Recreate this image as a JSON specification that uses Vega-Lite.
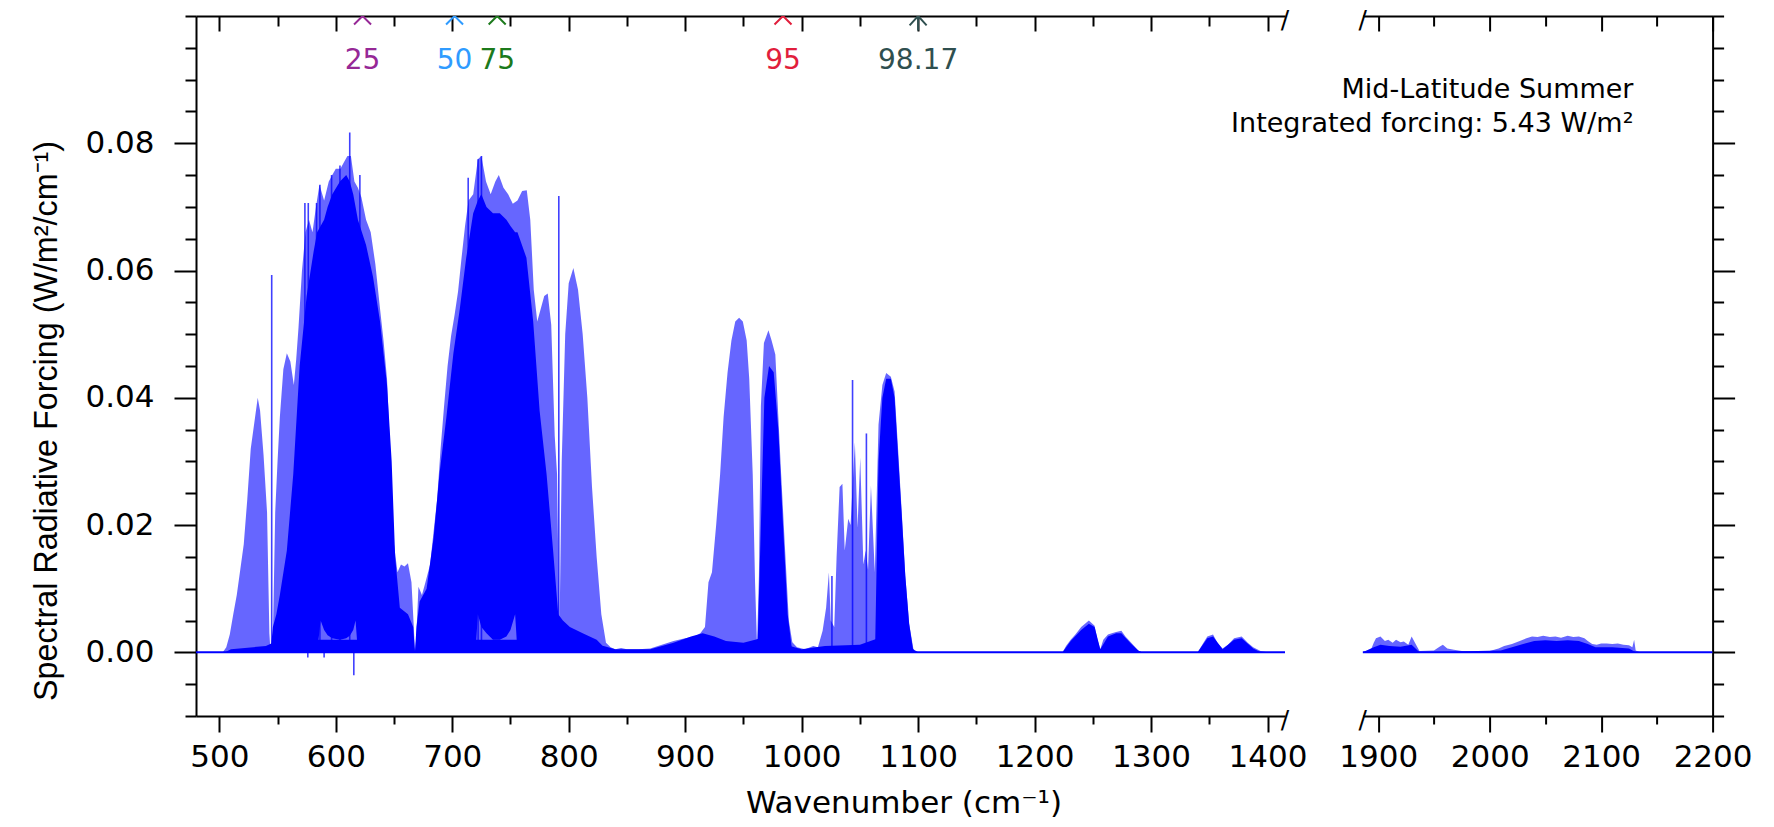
{
"$schema": "https://vega.github.io/schema/vega-lite/v6.json",
"background": "white",
"padding": {"left": 30, "top": 0, "right": 5, "bottom": 5},
"config": {
  "view": {"stroke": null},
  "axis": {"domainColor": "black", "domainWidth": 2, "tickColor": "black", "tickWidth": 2, "labelFont": "DejaVu Sans", "labelFontSize": 31, "labelColor": "black", "titleFont": "DejaVu Sans", "titleFontSize": 31, "titleColor": "black", "titleFontWeight": "normal", "grid": false, "labelFlush": false, "labelOverlap": false, "labelBound": false}
},
"bounds": "flush",
"spacing": 77.6,
"datasets": {
  "env1": [
    {"w":480,"hi":0},{"w":503,"hi":0},{"w":506,"hi":0.0008},{"w":509,"hi":0.0028},{"w":512,"hi":0.006},{"w":515,"hi":0.009},{"w":518,"hi":0.013},{"w":521,"hi":0.017},{"w":524,"hi":0.024},{"w":527,"hi":0.032},{"w":530,"hi":0.036},{"w":533,"hi":0.040},{"w":535,"hi":0.038},{"w":538,"hi":0.031},{"w":541,"hi":0.022},{"w":543,"hi":0.003},{"w":544,"hi":0.0},{"w":546,"hi":0.002},{"w":548,"hi":0.022},{"w":550,"hi":0.030},{"w":552,"hi":0.037},{"w":555,"hi":0.0445},{"w":558,"hi":0.047},{"w":561,"hi":0.0457},{"w":564,"hi":0.042},{"w":566,"hi":0.046},{"w":568,"hi":0.051},{"w":571,"hi":0.060},{"w":574,"hi":0.066},{"w":577,"hi":0.068},{"w":580,"hi":0.066},{"w":583,"hi":0.070},{"w":586,"hi":0.0735},{"w":590,"hi":0.071},{"w":594,"hi":0.074},{"w":597,"hi":0.075},{"w":600,"hi":0.076},{"w":604,"hi":0.076},{"w":607,"hi":0.077},{"w":610,"hi":0.078},{"w":613,"hi":0.078},{"w":616,"hi":0.074},{"w":619,"hi":0.073},{"w":622,"hi":0.0715},{"w":626,"hi":0.068},{"w":630,"hi":0.066},{"w":634,"hi":0.061},{"w":638,"hi":0.054},{"w":641,"hi":0.049},{"w":644,"hi":0.043},{"w":647,"hi":0.030},{"w":650,"hi":0.017},{"w":653,"hi":0.0126},{"w":656,"hi":0.0138},{"w":659,"hi":0.0135},{"w":662,"hi":0.014},{"w":665,"hi":0.011},{"w":667,"hi":0.004},{"w":668,"hi":0},{"w":669,"hi":0.002},{"w":671,"hi":0.0103},{"w":674,"hi":0.009},{"w":677,"hi":0.011},{"w":681,"hi":0.0138},{"w":684,"hi":0.019},{"w":687,"hi":0.024},{"w":690,"hi":0.032},{"w":693,"hi":0.0387},{"w":696,"hi":0.045},{"w":699,"hi":0.0497},{"w":702,"hi":0.053},{"w":705,"hi":0.0567},{"w":708,"hi":0.062},{"w":711,"hi":0.067},{"w":714,"hi":0.071},{"w":718,"hi":0.072},{"w":722,"hi":0.0775},{"w":725,"hi":0.078},{"w":729,"hi":0.074},{"w":733,"hi":0.072},{"w":737,"hi":0.074},{"w":740,"hi":0.075},{"w":744,"hi":0.073},{"w":748,"hi":0.072},{"w":752,"hi":0.0705},{"w":756,"hi":0.071},{"w":760,"hi":0.0725},{"w":764,"hi":0.0726},{"w":767,"hi":0.068},{"w":770,"hi":0.057},{"w":773,"hi":0.052},{"w":776,"hi":0.054},{"w":779,"hi":0.056},{"w":782,"hi":0.0564},{"w":785,"hi":0.0515},{"w":788,"hi":0.034},{"w":790,"hi":0.028},{"w":792,"hi":0.002},{"w":794,"hi":0.03},{"w":797,"hi":0.05},{"w":800,"hi":0.058},{"w":804,"hi":0.0604},{"w":808,"hi":0.057},{"w":812,"hi":0.050},{"w":816,"hi":0.040},{"w":820,"hi":0.026},{"w":824,"hi":0.015},{"w":828,"hi":0.006},{"w":832,"hi":0.0015},{"w":836,"hi":0.0008},{"w":840,"hi":0.0005},{"w":845,"hi":0.0007},{"w":850,"hi":0.0005},{"w":860,"hi":0.0005},{"w":870,"hi":0.0006},{"w":880,"hi":0.0012},{"w":890,"hi":0.0018},{"w":900,"hi":0.0022},{"w":908,"hi":0.0025},{"w":913,"hi":0.003},{"w":917,"hi":0.004},{"w":920,"hi":0.011},{"w":923,"hi":0.0126},{"w":926.6,"hi":0.020},{"w":930,"hi":0.028},{"w":933,"hi":0.037},{"w":936.4,"hi":0.044},{"w":939.7,"hi":0.049},{"w":943,"hi":0.052},{"w":946.3,"hi":0.0526},{"w":949.5,"hi":0.052},{"w":952.8,"hi":0.049},{"w":955,"hi":0.043},{"w":958,"hi":0.028},{"w":960,"hi":0.011},{"w":961.7,"hi":0.001},{"w":963.3,"hi":0.012},{"w":965,"hi":0.0387},{"w":967.6,"hi":0.0486},{"w":971.5,"hi":0.0506},{"w":974.2,"hi":0.049},{"w":977.4,"hi":0.0468},{"w":980,"hi":0.037},{"w":982.4,"hi":0.028},{"w":985.6,"hi":0.0167},{"w":989,"hi":0.005},{"w":992,"hi":0.0016},{"w":996,"hi":0.0008},{"w":1003,"hi":0.0005},{"w":1010,"hi":0.001},{"w":1014,"hi":0.0008},{"w":1018,"hi":0.0034},{"w":1021,"hi":0.007},{"w":1023.4,"hi":0.0126},{"w":1025,"hi":0.005},{"w":1028,"hi":0.004},{"w":1030,"hi":0.015},{"w":1032.6,"hi":0.026},{"w":1035,"hi":0.0265},{"w":1037,"hi":0.016},{"w":1040,"hi":0.021},{"w":1042,"hi":0.02},{"w":1045.7,"hi":0.033},{"w":1048,"hi":0.0196},{"w":1050.3,"hi":0.0306},{"w":1053,"hi":0.0138},{"w":1055,"hi":0.016},{"w":1057,"hi":0.013},{"w":1059.5,"hi":0.0262},{"w":1062.8,"hi":0.0126},{"w":1066,"hi":0.0358},{"w":1069.3,"hi":0.042},{"w":1072.6,"hi":0.0439},{"w":1076.6,"hi":0.0433},{"w":1079.8,"hi":0.041},{"w":1083.1,"hi":0.031},{"w":1085.8,"hi":0.0225},{"w":1089,"hi":0.012},{"w":1092.3,"hi":0.0045},{"w":1096,"hi":0.0005},{"w":1100,"hi":0},{"w":1224,"hi":0},{"w":1227,"hi":0.001},{"w":1231,"hi":0.002},{"w":1235,"hi":0.0028},{"w":1240,"hi":0.004},{"w":1246.6,"hi":0.005},{"w":1251.5,"hi":0.0042},{"w":1254,"hi":0.002},{"w":1256.4,"hi":0.0005},{"w":1259,"hi":0.002},{"w":1263,"hi":0.0028},{"w":1266.3,"hi":0.003},{"w":1270,"hi":0.0032},{"w":1274.5,"hi":0.0034},{"w":1278,"hi":0.0025},{"w":1282.6,"hi":0.0016},{"w":1289,"hi":0.0003},{"w":1292,"hi":0},{"w":1340,"hi":0},{"w":1345,"hi":0.0015},{"w":1348.3,"hi":0.0025},{"w":1353.2,"hi":0.0028},{"w":1357,"hi":0.0015},{"w":1361.4,"hi":0.0006},{"w":1366,"hi":0.0012},{"w":1371.3,"hi":0.0022},{"w":1377.8,"hi":0.0025},{"w":1383,"hi":0.0015},{"w":1387.7,"hi":0.0008},{"w":1394,"hi":0.0002},{"w":1400,"hi":0},{"w":1415,"hi":0}
  ],
  "core1": [
    {"w":544,"clo":0,"chi":0},{"w":546,"clo":0,"chi":0.004},{"w":549,"clo":0,"chi":0.006},{"w":552,"clo":0,"chi":0.009},{"w":558,"clo":0,"chi":0.016},{"w":563.5,"clo":0,"chi":0.028},{"w":569,"clo":0,"chi":0.045},{"w":575,"clo":0,"chi":0.056},{"w":581,"clo":0,"chi":0.063},{"w":584,"clo":0,"chi":0.066},{"w":587,"clo":0.005,"chi":0.067},{"w":590,"clo":0.0035,"chi":0.068},{"w":593,"clo":0.0027,"chi":0.07},{"w":597,"clo":0.0022,"chi":0.072},{"w":603.6,"clo":0.002,"chi":0.074},{"w":609,"clo":0.0022,"chi":0.075},{"w":612,"clo":0.0026,"chi":0.074},{"w":615,"clo":0.0035,"chi":0.072},{"w":617,"clo":0.005,"chi":0.07},{"w":619,"clo":0,"chi":0.068},{"w":626,"clo":0,"chi":0.064},{"w":632,"clo":0,"chi":0.059},{"w":638,"clo":0,"chi":0.052},{"w":644,"clo":0,"chi":0.042},{"w":648,"clo":0,"chi":0.03},{"w":651,"clo":0,"chi":0.015},{"w":655,"clo":0,"chi":0.007},{"w":662,"clo":0,"chi":0.006},{"w":666.5,"clo":0,"chi":0.004},{"w":668,"clo":0,"chi":0},
    {"w":669.3,"clo":0,"chi":0.004},{"w":672,"clo":0,"chi":0.008},{"w":678,"clo":0,"chi":0.010},{"w":684,"clo":0,"chi":0.018},{"w":689,"clo":0,"chi":0.028},{"w":695,"clo":0,"chi":0.037},{"w":701,"clo":0,"chi":0.047},{"w":706.5,"clo":0,"chi":0.054},{"w":712,"clo":0,"chi":0.062},{"w":718,"clo":0,"chi":0.069},{"w":720,"clo":0,"chi":0.07},{"w":722,"clo":0.006,"chi":0.071},{"w":725,"clo":0.004,"chi":0.072},{"w":729.4,"clo":0.003,"chi":0.070},{"w":735,"clo":0.002,"chi":0.069},{"w":740.8,"clo":0.002,"chi":0.069},{"w":746.5,"clo":0.0025,"chi":0.068},{"w":750,"clo":0.0035,"chi":0.067},{"w":754,"clo":0.006,"chi":0.066},{"w":756,"clo":0,"chi":0.066},{"w":763.7,"clo":0,"chi":0.062},{"w":769.5,"clo":0,"chi":0.052},{"w":775,"clo":0,"chi":0.038},{"w":781,"clo":0,"chi":0.028},{"w":786.6,"clo":0,"chi":0.016},{"w":791,"clo":0,"chi":0.006},{"w":795,"clo":0,"chi":0.005},{"w":801,"clo":0,"chi":0.004},{"w":812,"clo":0,"chi":0.003},{"w":824,"clo":0,"chi":0.002},{"w":832,"clo":0,"chi":0.0005},{"w":834,"clo":0,"chi":0},
    {"w":962,"clo":0,"chi":0},{"w":965,"clo":0,"chi":0.02},{"w":968,"clo":0,"chi":0.04},{"w":972,"clo":0,"chi":0.045},{"w":976,"clo":0,"chi":0.044},{"w":980,"clo":0,"chi":0.035},{"w":984,"clo":0,"chi":0.02},{"w":988,"clo":0,"chi":0.006},{"w":992,"clo":0,"chi":0},
    {"w":1063,"clo":0,"chi":0},{"w":1066,"clo":0,"chi":0.03},{"w":1069.3,"clo":0,"chi":0.04},{"w":1072.6,"clo":0,"chi":0.043},{"w":1076.6,"clo":0,"chi":0.043},{"w":1079.8,"clo":0,"chi":0.04},{"w":1083.1,"clo":0,"chi":0.03},{"w":1085.8,"clo":0,"chi":0.022},{"w":1089,"clo":0,"chi":0.012},{"w":1092.3,"clo":0,"chi":0.0045},{"w":1096,"clo":0,"chi":0},
    {"w":1224,"clo":0,"chi":0},{"w":1231,"clo":0,"chi":0.0018},{"w":1240,"clo":0,"chi":0.0035},{"w":1246.6,"clo":0,"chi":0.0045},{"w":1251.5,"clo":0,"chi":0.004},{"w":1256.4,"clo":0,"chi":0.0005},{"w":1263,"clo":0,"chi":0.0025},{"w":1270,"clo":0,"chi":0.003},{"w":1274.5,"clo":0,"chi":0.003},{"w":1282.6,"clo":0,"chi":0.0014},{"w":1289,"clo":0,"chi":0.0003},{"w":1292,"clo":0,"chi":0},
    {"w":1340,"clo":0,"chi":0},{"w":1348.3,"clo":0,"chi":0.0022},{"w":1353.2,"clo":0,"chi":0.0025},{"w":1361.4,"clo":0,"chi":0.0005},{"w":1371.3,"clo":0,"chi":0.002},{"w":1377.8,"clo":0,"chi":0.0022},{"w":1387.7,"clo":0,"chi":0.0006},{"w":1394,"clo":0,"chi":0}
  ],
  "base1": [
    {"w":505,"b":0},{"w":510,"b":0.0005},{"w":540,"b":0.001},{"w":546,"b":0.0015},{"w":580,"b":0.002},{"w":600,"b":0.002},{"w":620,"b":0.002},{"w":660,"b":0.002},{"w":667,"b":0.001},{"w":668,"b":0},{"w":670,"b":0.001},{"w":700,"b":0.002},{"w":760,"b":0.002},{"w":790,"b":0.002},{"w":800,"b":0.0015},{"w":830,"b":0.001},{"w":840,"b":0.0005},{"w":870,"b":0.0005},{"w":890,"b":0.0015},{"w":905,"b":0.0025},{"w":915,"b":0.003},{"w":925,"b":0.0025},{"w":935,"b":0.0018},{"w":950,"b":0.0015},{"w":960,"b":0.002},{"w":970,"b":0.0025},{"w":980,"b":0.002},{"w":990,"b":0.001},{"w":1000,"b":0.0005},{"w":1020,"b":0.001},{"w":1050,"b":0.0012},{"w":1070,"b":0.0025},{"w":1080,"b":0.0028},{"w":1090,"b":0.0015},{"w":1097,"b":0.0003},{"w":1100,"b":0}
  ],
  "spk1": [
    {"w":545,"top":0.0593,"bot":0},{"w":573.5,"top":0.0706,"bot":0},{"w":576.4,"top":0.0706,"bot":0},{"w":583.5,"top":0.0706,"bot":0},{"w":586.4,"top":0.0735,"bot":0},{"w":596.4,"top":0.075,"bot":0},{"w":603.6,"top":0.0765,"bot":0},{"w":612,"top":0.0817,"bot":0},{"w":620.7,"top":0.075,"bot":0},{"w":615.5,"top":0,"bot":-0.0036},{"w":576,"top":0,"bot":-0.0008},{"w":590,"top":0,"bot":-0.0008},{"w":713.7,"top":0.0746,"bot":0},{"w":722.2,"top":0.0775,"bot":0},{"w":725.1,"top":0.078,"bot":0},{"w":791.5,"top":0.0717,"bot":0},{"w":1026,"top":0.012,"bot":0},{"w":1043.7,"top":0.0428,"bot":0},{"w":1055.6,"top":0.0344,"bot":0}
  ],
  "env2": [
    {"w":1886,"hi":0},{"w":1893,"hi":0.0002},{"w":1896,"hi":0.0015},{"w":1898,"hi":0.0022},{"w":1902,"hi":0.0025},{"w":1906,"hi":0.0018},{"w":1909,"hi":0.002},{"w":1913,"hi":0.0015},{"w":1916,"hi":0.002},{"w":1920,"hi":0.0016},{"w":1923,"hi":0.0017},{"w":1927,"hi":0.0012},{"w":1930,"hi":0.0025},{"w":1933,"hi":0.0015},{"w":1937,"hi":0.0002},{"w":1950,"hi":0.0003},{"w":1955,"hi":0.0009},{"w":1958,"hi":0.0012},{"w":1962,"hi":0.0006},{"w":1968,"hi":0.0004},{"w":1975,"hi":0.0002},{"w":1985,"hi":0.0001},{"w":2000,"hi":0.0002},{"w":2008,"hi":0.0006},{"w":2013,"hi":0.001},{"w":2020,"hi":0.0013},{"w":2027,"hi":0.0018},{"w":2033,"hi":0.0022},{"w":2038,"hi":0.0025},{"w":2043,"hi":0.0024},{"w":2048,"hi":0.0026},{"w":2054,"hi":0.0024},{"w":2059,"hi":0.0025},{"w":2064,"hi":0.0023},{"w":2070,"hi":0.0026},{"w":2075,"hi":0.0024},{"w":2080,"hi":0.0025},{"w":2085,"hi":0.0022},{"w":2088,"hi":0.0018},{"w":2092,"hi":0.0013},{"w":2096,"hi":0.0012},{"w":2100,"hi":0.0014},{"w":2105,"hi":0.0014},{"w":2110,"hi":0.0013},{"w":2115,"hi":0.0014},{"w":2120,"hi":0.0012},{"w":2125,"hi":0.0011},{"w":2128,"hi":0.0008},{"w":2129.6,"hi":0.002},{"w":2131,"hi":0.0003},{"w":2135,"hi":0},{"w":2200,"hi":0}
  ],
  "core2": [
    {"w":1886,"chi":0},{"w":1896,"chi":0.0008},{"w":1902,"chi":0.0012},{"w":1910,"chi":0.001},{"w":1920,"chi":0.0009},{"w":1930,"chi":0.0012},{"w":1937,"chi":0},{"w":2010,"chi":0.0003},{"w":2020,"chi":0.0008},{"w":2030,"chi":0.0013},{"w":2040,"chi":0.0018},{"w":2050,"chi":0.0019},{"w":2060,"chi":0.0018},{"w":2070,"chi":0.0019},{"w":2080,"chi":0.0018},{"w":2088,"chi":0.0013},{"w":2095,"chi":0.0008},{"w":2110,"chi":0.0008},{"w":2125,"chi":0.0006},{"w":2131,"chi":0},{"w":2200,"chi":0}
  ],
  "zero1": [{"a":480,"b":1415}],
  "zero2": [{"a":1886,"b":2200}],
  "brk": [{"y":0.1},{"y":-0.01}],
  "pct": [{"w":623,"label":"25"},{"w":702,"label":"50"},{"w":738.6,"label":"75"},{"w":984,"label":"95"},{"w":1100,"label":"98.17"}],
  "notes": [{"line":"Mid-Latitude Summer","y":0.0884},{"line":"Integrated forcing: 5.43 W/m²","y":0.0830}]
},
"hconcat": [
  {
    "width": 1089, "height": 700,
    "resolve": {"axis": {"x": "independent", "y": "independent"}},
    "layer": [
      {"data": {"name": "env1"},
       "mark": {"type": "area", "color": "#0000ff", "opacity": 0.6, "clip": true},
       "encoding": {
         "x": {"field": "w", "type": "quantitative", "scale": {"domain": [480, 1415], "nice": false, "zero": false},
               "axis": {"orient": "bottom", "values": [500,550,600,650,700,750,800,850,900,950,1000,1050,1100,1150,1200,1250,1300,1350,1400],
                        "labelExpr": "datum.value % 100 === 0 ? datum.value : ''",
                        "tickSize": {"condition": {"test": "datum.value % 100 === 0", "value": 16}, "value": 8},
                        "labelPadding": 10,
                        "title": "Wavenumber (cm⁻¹)", "titleX": 707.5, "titleY": 96, "titleAlign": "center", "titleBaseline": "alphabetic"}},
         "y": {"field": "hi", "type": "quantitative", "scale": {"domain": [-0.01, 0.1], "nice": false, "zero": false},
               "axis": {"orient": "left", "values": [-0.01,-0.005,0,0.005,0.01,0.015,0.02,0.025,0.03,0.035,0.04,0.045,0.05,0.055,0.06,0.065,0.07,0.075,0.08,0.085,0.09,0.095,0.1],
                        "labelExpr": "(datum.value > -0.001 && datum.value < 0.081 && abs(datum.value*50 - round(datum.value*50)) < 0.001) ? format(datum.value, '.2f') : ''",
                        "tickSize": {"condition": {"test": "datum.value > -0.001 && datum.value < 0.081 && abs(datum.value*50 - round(datum.value*50)) < 0.001", "value": 22}, "value": 11},
                        "labelPadding": 20,
                        "title": "Spectral Radiative Forcing (W/m²/cm⁻¹)", "titleFont": "Liberation Sans", "titleFontSize": 32.3,
                        "titleAngle": 270, "titleAlign": "center", "titleBaseline": "alphabetic", "titleX": -140, "titleY": 404.5}},
         "y2": {"datum": 0}
       }},
      {"data": {"name": "base1"},
       "mark": {"type": "area", "color": "#0000ff", "opacity": 1, "clip": true},
       "encoding": {
         "x": {"field": "w", "type": "quantitative", "scale": {"domain": [480, 1415], "nice": false, "zero": false},
               "axis": {"orient": "top", "values": [500,550,600,650,700,750,800,850,900,950,1000,1050,1100,1150,1200,1250,1300,1350,1400],
                        "labels": false, "title": null,
                        "tickSize": {"condition": {"test": "datum.value % 100 === 0", "value": -15}, "value": -10}}},
         "y": {"field": "b", "type": "quantitative", "scale": {"domain": [-0.01, 0.1], "nice": false, "zero": false}, "axis": null},
         "y2": {"datum": 0}
       }},
      {"data": {"name": "core1"},
       "mark": {"type": "area", "color": "#0000ff", "opacity": 1, "clip": true},
       "encoding": {
         "x": {"field": "w", "type": "quantitative", "scale": {"domain": [480, 1415], "nice": false, "zero": false}, "axis": null},
         "y": {"field": "chi", "type": "quantitative", "scale": {"domain": [-0.01, 0.1], "nice": false, "zero": false}, "axis": null},
         "y2": {"field": "clo"}
       }},
      {"data": {"name": "spk1"},
       "mark": {"type": "rule", "color": "#0000ff", "opacity": 0.75, "strokeWidth": 1.6, "clip": true},
       "encoding": {
         "x": {"field": "w", "type": "quantitative", "scale": {"domain": [480, 1415], "nice": false, "zero": false}, "axis": null},
         "y": {"field": "top", "type": "quantitative", "scale": {"domain": [-0.01, 0.1], "nice": false, "zero": false}, "axis": null},
         "y2": {"field": "bot"}
       }},
      {"data": {"name": "zero1"},
       "mark": {"type": "rule", "color": "#0000ff", "strokeWidth": 2, "clip": true},
       "encoding": {
         "x": {"field": "a", "type": "quantitative", "scale": {"domain": [480, 1415], "nice": false, "zero": false}, "axis": null},
         "x2": {"field": "b"},
         "y": {"datum": 0, "type": "quantitative", "scale": {"domain": [-0.01, 0.1], "nice": false, "zero": false}, "axis": null}
       }},
      {"data": {"name": "pct"},
       "mark": {"type": "point", "filled": false, "strokeWidth": 2, "size": 289, "clip": true, "opacity": 1},
       "encoding": {
         "x": {"field": "w", "type": "quantitative", "scale": {"domain": [480, 1415], "nice": false, "zero": false}, "axis": null},
         "y": {"datum": 0.1, "type": "quantitative", "scale": {"domain": [-0.01, 0.1], "nice": false, "zero": false}, "axis": null},
         "color": {"field": "label", "type": "nominal", "legend": null, "scale": {"domain": ["25","50","75","95","98.17"], "range": ["#962896","#2f9bff","#1c7a1c","#e11e3c","#2f4f4f"]}},
         "shape": {"field": "label", "type": "nominal", "legend": null, "scale": {"domain": ["25","50","75","95","98.17"], "range": ["M-1,-1L1,1M-1,1L1,-1","M-1,-1L1,1M-1,1L1,-1","M-1,-1L1,1M-1,1L1,-1","M-1,-1L1,1M-1,1L1,-1","M-1,-1.1L1,1.1M-1,1.1L1,-1.1M0,-1.7L0,1.7"]}}
       }},
      {"data": {"name": "pct"},
       "mark": {"type": "text", "font": "DejaVu Sans", "fontSize": 28, "align": "center", "baseline": "middle"},
       "encoding": {
         "x": {"field": "w", "type": "quantitative", "scale": {"domain": [480, 1415], "nice": false, "zero": false}, "axis": null},
         "y": {"datum": 0.093, "type": "quantitative", "scale": {"domain": [-0.01, 0.1], "nice": false, "zero": false}, "axis": null},
         "text": {"field": "label"},
         "color": {"field": "label", "type": "nominal", "legend": null, "scale": {"domain": ["25","50","75","95","98.17"], "range": ["#962896","#2f9bff","#1c7a1c","#e11e3c","#2f4f4f"]}}
       }},
      {"data": {"name": "brk"},
       "mark": {"type": "text", "text": "/", "font": "DejaVu Sans", "fontSize": 25, "align": "center", "baseline": "middle", "color": "black", "dy": 4},
       "encoding": {
         "x": {"datum": 1415, "type": "quantitative", "scale": {"domain": [480, 1415], "nice": false, "zero": false}, "axis": null},
         "y": {"field": "y", "type": "quantitative", "scale": {"domain": [-0.01, 0.1], "nice": false, "zero": false}, "axis": null}
       }}
    ]
  },
  {
    "width": 350, "height": 700,
    "resolve": {"axis": {"x": "independent", "y": "independent"}},
    "layer": [
      {"data": {"name": "env2"},
       "mark": {"type": "area", "color": "#0000ff", "opacity": 0.6, "clip": true},
       "encoding": {
         "x": {"field": "w", "type": "quantitative", "scale": {"domain": [1886, 2200], "nice": false, "zero": false},
               "axis": {"orient": "bottom", "values": [1900,1950,2000,2050,2100,2150,2200],
                        "labelExpr": "datum.value % 100 === 0 ? datum.value : ''",
                        "tickSize": {"condition": {"test": "datum.value % 100 === 0", "value": 16}, "value": 8},
                        "labelPadding": 10, "title": null}},
         "y": {"field": "hi", "type": "quantitative", "scale": {"domain": [-0.01, 0.1], "nice": false, "zero": false},
               "axis": {"orient": "right", "values": [-0.01,-0.005,0,0.005,0.01,0.015,0.02,0.025,0.03,0.035,0.04,0.045,0.05,0.055,0.06,0.065,0.07,0.075,0.08,0.085,0.09,0.095,0.1],
                        "labels": false, "title": null,
                        "tickSize": {"condition": {"test": "datum.value > -0.001 && datum.value < 0.081 && abs(datum.value*50 - round(datum.value*50)) < 0.001", "value": 22}, "value": 11}}},
         "y2": {"datum": 0}
       }},
      {"data": {"name": "core2"},
       "mark": {"type": "area", "color": "#0000ff", "opacity": 1, "clip": true},
       "encoding": {
         "x": {"field": "w", "type": "quantitative", "scale": {"domain": [1886, 2200], "nice": false, "zero": false},
               "axis": {"orient": "top", "values": [1900,1950,2000,2050,2100,2150,2200], "labels": false, "title": null,
                        "tickSize": {"condition": {"test": "datum.value % 100 === 0", "value": -15}, "value": -10}}},
         "y": {"field": "chi", "type": "quantitative", "scale": {"domain": [-0.01, 0.1], "nice": false, "zero": false}, "axis": null},
         "y2": {"datum": 0}
       }},
      {"data": {"name": "zero2"},
       "mark": {"type": "rule", "color": "#0000ff", "strokeWidth": 2, "clip": true},
       "encoding": {
         "x": {"field": "a", "type": "quantitative", "scale": {"domain": [1886, 2200], "nice": false, "zero": false}, "axis": null},
         "x2": {"field": "b"},
         "y": {"datum": 0, "type": "quantitative", "scale": {"domain": [-0.01, 0.1], "nice": false, "zero": false}, "axis": null}
       }},
      {"data": {"name": "notes"},
       "mark": {"type": "text", "font": "DejaVu Sans", "fontSize": 27, "align": "right", "baseline": "middle", "color": "black"},
       "encoding": {
         "x": {"datum": 2129, "type": "quantitative", "scale": {"domain": [1886, 2200], "nice": false, "zero": false}, "axis": null},
         "y": {"field": "y", "type": "quantitative", "scale": {"domain": [-0.01, 0.1], "nice": false, "zero": false}, "axis": null},
         "text": {"field": "line"}
       }},
      {"data": {"name": "brk"},
       "mark": {"type": "text", "text": "/", "font": "DejaVu Sans", "fontSize": 25, "align": "center", "baseline": "middle", "color": "black", "dy": 4},
       "encoding": {
         "x": {"datum": 1886, "type": "quantitative", "scale": {"domain": [1886, 2200], "nice": false, "zero": false}, "axis": null},
         "y": {"field": "y", "type": "quantitative", "scale": {"domain": [-0.01, 0.1], "nice": false, "zero": false}, "axis": null}
       }}
    ]
  }
]
}
